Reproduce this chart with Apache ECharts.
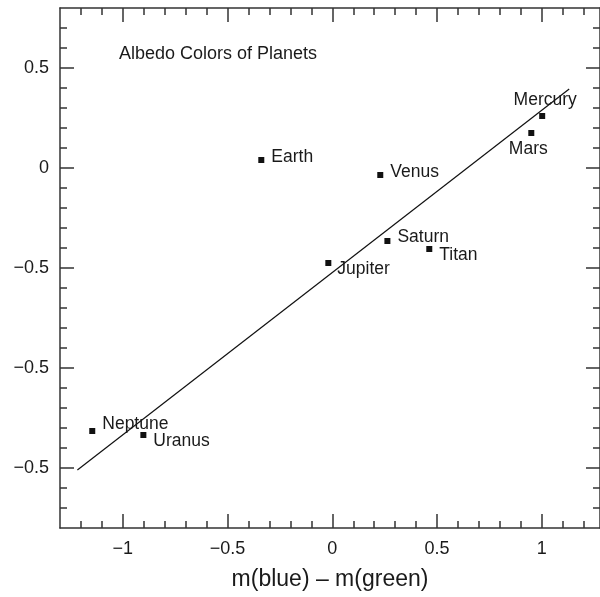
<!DOCTYPE html>
<html>
<head>
<meta charset="utf-8">
<script src="https://cdn.jsdelivr.net/npm/echarts@6/dist/echarts.min.js"></script>
<style>
  html, body { margin: 0; padding: 0; background: #fff; }
  #main { width: 600px; height: 597px; }
</style>
</head>
<body>
<div id="main"></div>
<script>
// planets
var names = ['Earth', 'Venus', 'Mercury', 'Mars', 'Saturn', 'Titan', 'Jupiter', 'Neptune', 'Uranus']
var xVals = [-0.339, 0.229, 1.002, 0.95, 0.263, 0.463, -0.019, -1.146, -0.902]
var yVals = [0.04, -0.035, 0.26, 0.175, -0.365, -0.405, -0.475, -1.315, -1.335]
// fitted line end points
var fitX = [-1.217, 1.131]
var fitY = [-1.51, 0.395]
// ticks
var xMajor = [-1, -0.5, 0, 0.5, 1]
var xMajorLabels = ['\u22121', '\u22120.5', '0', '0.5', '1']
var xMinor = [-1.2, -1.1, -0.9, -0.8, -0.7, -0.6, -0.4, -0.3, -0.2, -0.1, 0.1, 0.2, 0.3, 0.4, 0.6, 0.7, 0.8, 0.9, 1.1, 1.2]
var yMajor = [0.5, 0, -0.5, -1, -1.5]
var yMajorLabels = ['0.5', '0', '\u22120.5', '\u22120.5', '\u22120.5']
var yMinor = [0.7, 0.6, 0.4, 0.3, 0.2, 0.1, -0.1, -0.2, -0.3, -0.4, -0.6, -0.7, -0.8, -0.9, -1.1, -1.2, -1.3, -1.4, -1.6, -1.7]

var FONT = 'Liberation Sans'
var TXT = '#1a1a1a'
var AX = '#333'

// label placement per planet (style, not data)
var labelStyle = {
  Earth: { position: 'right', distance: 7, offset: [0, -3] },
  Venus: { position: 'right', distance: 7, offset: [0, -3] },
  Mercury: { position: 'top', distance: 4, offset: [3, 0] },
  Mars: { position: 'bottom', distance: 4, offset: [-3, 0] },
  Saturn: { position: 'right', distance: 7, offset: [0, -4] },
  Titan: { position: 'right', distance: 7, offset: [0, 6] },
  Jupiter: { position: 'right', distance: 6, offset: [0, 6] },
  Neptune: { position: 'right', distance: 7, offset: [0, -7] },
  Uranus: { position: 'right', distance: 7, offset: [0, 6] }
}

var points = []
for (var i = 0; i < names.length; i++) {
  points.push({
    name: names[i],
    value: [xVals[i], yVals[i]],
    label: labelStyle[names[i]]
  })
}
var fitData = []
for (var j = 0; j < fitX.length; j++) {
  fitData.push([fitX[j], fitY[j]])
}

function lookup (vals, labels) {
  return function (v) {
    for (var k = 0; k < vals.length; k++) {
      if (Math.abs(vals[k] - v) < 1e-6) return labels[k]
    }
    return ''
  }
}

var XMIN = -1.3
var XMAX = 1.278
var YMIN = -1.8
var YMAX = 0.8

function xAx (pos, ticks, len, showLine, showLabel) {
  return {
    type: 'value',
    position: pos,
    min: XMIN,
    max: XMAX,
    splitLine: { show: false },
    axisLine: { show: showLine, onZero: false, lineStyle: { color: AX, width: 1.5 } },
    axisTick: { show: true, inside: true, length: len, customValues: ticks, lineStyle: { color: AX, width: 1.5 } },
    axisLabel: showLabel ? {
      show: true,
      customValues: xMajor,
      formatter: lookup(xMajor, xMajorLabels),
      margin: 12,
      color: TXT,
      fontSize: 18,
      fontFamily: FONT
    } : { show: false }
  }
}

function yAx (pos, ticks, len, showLine, showLabel) {
  return {
    type: 'value',
    position: pos,
    min: YMIN,
    max: YMAX,
    splitLine: { show: false },
    axisLine: { show: showLine, onZero: false, lineStyle: { color: AX, width: 1.5 } },
    axisTick: { show: true, inside: true, length: len, customValues: ticks, lineStyle: { color: AX, width: 1.5 } },
    axisLabel: showLabel ? {
      show: true,
      customValues: yMajor,
      formatter: lookup(yMajor, yMajorLabels),
      margin: 11,
      color: TXT,
      fontSize: 18,
      fontFamily: FONT
    } : { show: false }
  }
}

var bottomMajor = xAx('bottom', xMajor, 14, true, true)
bottomMajor.name = 'm(blue) \u2013 m(green)'
bottomMajor.nameLocation = 'middle'
bottomMajor.nameGap = 40
bottomMajor.nameTextStyle = { color: TXT, fontSize: 23, fontFamily: FONT }

var chart = echarts.init(document.getElementById('main'))
chart.setOption({
  animation: false,
  backgroundColor: '#fff',
  title: {
    text: 'Albedo Colors of Planets',
    left: 114,
    top: 40,
    textStyle: { color: TXT, fontSize: 18, fontWeight: 'normal', fontFamily: FONT }
  },
  grid: { left: 60, top: 8, right: 0, bottom: 69 },
  xAxis: [
    bottomMajor,
    xAx('bottom', xMinor, 7, false, false),
    xAx('top', xMajor, 14, true, false),
    xAx('top', xMinor, 7, false, false)
  ],
  yAxis: [
    yAx('left', yMajor, 14, true, true),
    yAx('left', yMinor, 7, false, false),
    yAx('right', yMajor, 14, true, false),
    yAx('right', yMinor, 7, false, false)
  ],
  series: [
    {
      name: 'fit',
      type: 'line',
      xAxisIndex: 0,
      yAxisIndex: 0,
      data: fitData,
      symbol: 'none',
      lineStyle: { color: '#111', width: 1.2 },
      z: 1
    },
    {
      name: 'planets',
      type: 'scatter',
      xAxisIndex: 0,
      yAxisIndex: 0,
      data: points,
      symbol: 'rect',
      symbolSize: 6,
      itemStyle: { color: '#111', opacity: 1 },
      label: {
        show: true,
        formatter: '{b}',
        color: TXT,
        fontSize: 17.5,
        fontFamily: FONT
      },
      z: 3
    }
  ]
})
</script>
</body>
</html>
